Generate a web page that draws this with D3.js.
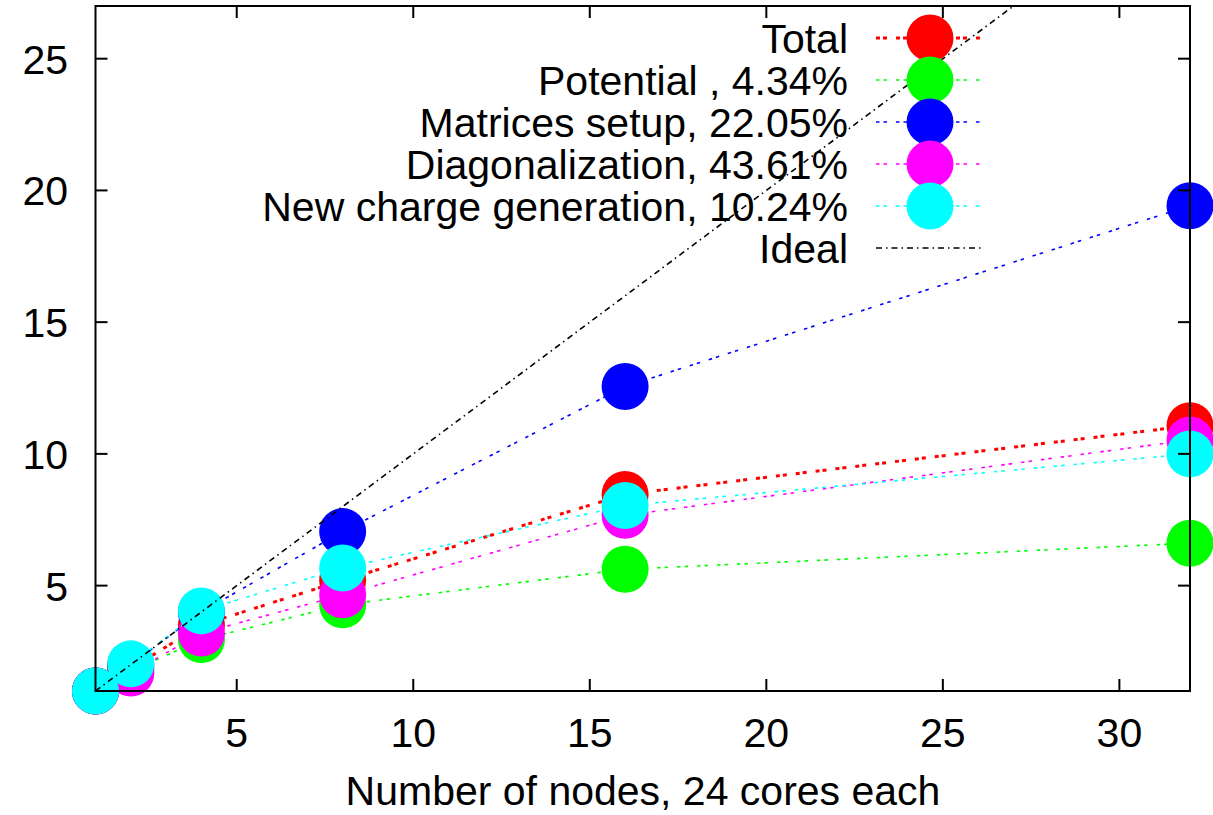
<!DOCTYPE html>
<html>
<head>
<meta charset="utf-8">
<script src="https://cdn.jsdelivr.net/npm/d3@7"></script>
<style>
  body { margin: 0; background: #fff; }
  svg { display: block; font-family: "Liberation Sans", Arial, sans-serif; }
</style>
</head>
<body>
<svg></svg>
<script>
const width = 1213;
const height = 815;

// données
const nodes = [1, 2, 4, 8, 16, 32];
const total = [1, 1.85, 3.5, 5.2, 8.46, 11.07];
const potential = [1, 1.75, 2.95, 4.27, 5.62, 6.61];
const matrices = [1, 2.0, 4.0, 7.05, 12.56, 19.42];
const diag = [1, 1.68, 3.2, 4.65, 7.67, 10.53];
const newCharge = [1, 2.03, 4.04, 5.67, 8.04, 10.0];
const ideal = [1, 32];

const xTicks = [5, 10, 15, 20, 25, 30];
const yTicks = [5, 10, 15, 20, 25];

const series = [
  { name: "Total", values: total, color: "#ff0000", thick: true },
  { name: "Potential , 4.34%", values: potential, color: "#00ff00" },
  { name: "Matrices setup, 22.05%", values: matrices, color: "#0000ff" },
  { name: "Diagonalization, 43.61%", values: diag, color: "#ff00ff" },
  { name: "New charge generation, 10.24%", values: newCharge, color: "#00ffff" }
];

const margin = { left: 95.5, right: 23, top: 6, bottom: 124 };

const svg = d3.select("svg")
  .attr("width", width)
  .attr("height", height);

const x = d3.scaleLinear().domain([1, 32]).range([margin.left, width - margin.right]);
const y = d3.scaleLinear().domain([1, 27]).range([height - margin.bottom, margin.top]);

const fontSize = 41;
const r = 23.5;

svg.append("defs").append("clipPath").attr("id", "clip")
  .append("rect")
  .attr("x", x(1)).attr("y", y(27))
  .attr("width", x(32) - x(1)).attr("height", y(1) - y(27));

const line = d3.line().x(d => x(d[0])).y(d => y(d[1]));

function dashFor(s) {
  return s.thick ? "4,3,4,9" : "3.5,4,3.5,9";
}

// courbes + points
series.forEach(s => {
  const pts = nodes.map((n, i) => [n, s.values[i]]);
  svg.append("path")
    .attr("d", line(pts))
    .attr("fill", "none")
    .attr("stroke", s.color)
    .attr("stroke-width", s.thick ? 3 : 1.6)
    .attr("stroke-dasharray", dashFor(s));
  svg.append("g").selectAll("circle")
    .data(pts)
    .join("circle")
    .attr("cx", d => x(d[0]))
    .attr("cy", d => y(d[1]))
    .attr("r", r)
    .attr("fill", s.color);
});

// droite idéale
svg.append("path")
  .attr("clip-path", "url(#clip)")
  .attr("d", line(ideal.map(v => [v, v])))
  .attr("fill", "none")
  .attr("stroke", "#000")
  .attr("stroke-width", 1.6)
  .attr("stroke-dasharray", "6,4,1.5,4");

// cadre et graduations
const tickLen = 12;
const frame = svg.append("g").attr("stroke", "#000").attr("stroke-width", 2);
frame.append("rect")
  .attr("x", x(1)).attr("y", y(27))
  .attr("width", x(32) - x(1)).attr("height", y(1) - y(27))
  .attr("fill", "none");

xTicks.forEach(t => {
  frame.append("line").attr("x1", x(t)).attr("x2", x(t))
    .attr("y1", y(1)).attr("y2", y(1) - tickLen);
  frame.append("line").attr("x1", x(t)).attr("x2", x(t))
    .attr("y1", y(27)).attr("y2", y(27) + tickLen);
});
yTicks.forEach(t => {
  frame.append("line").attr("x1", x(1)).attr("x2", x(1) + tickLen)
    .attr("y1", y(t)).attr("y2", y(t));
  frame.append("line").attr("x1", x(32)).attr("x2", x(32) - tickLen)
    .attr("y1", y(t)).attr("y2", y(t));
});

svg.append("g").selectAll("text")
  .data(xTicks)
  .join("text")
  .attr("x", d => x(d))
  .attr("y", y(1) + 56)
  .attr("text-anchor", "middle")
  .attr("font-size", fontSize)
  .text(d => d);

svg.append("g").selectAll("text")
  .data(yTicks)
  .join("text")
  .attr("x", 68)
  .attr("y", d => y(d) + 15)
  .attr("text-anchor", "end")
  .attr("font-size", fontSize)
  .text(d => d);

svg.append("text")
  .attr("x", 643)
  .attr("y", 805)
  .attr("text-anchor", "middle")
  .attr("font-size", fontSize)
  .text("Number of nodes, 24 cores each");

// légende
const legendItems = series.concat([{ name: "Ideal", color: "#000", ideal: true }]);
const lg = svg.append("g");
legendItems.forEach((s, i) => {
  const cy = 38 + i * 42;
  lg.append("text")
    .attr("x", 848)
    .attr("y", cy + 14.5)
    .attr("text-anchor", "end")
    .attr("font-size", fontSize)
    .text(s.name);
  lg.append("line")
    .attr("x1", 876).attr("x2", 981)
    .attr("y1", cy).attr("y2", cy)
    .attr("stroke", s.color)
    .attr("stroke-width", s.thick ? 3 : 1.6)
    .attr("stroke-dasharray", s.ideal ? "6,4,1.5,4" : dashFor(s));
  if (!s.ideal) {
    lg.append("circle")
      .attr("cx", 930).attr("cy", cy)
      .attr("r", r)
      .attr("fill", s.color);
  }
});
</script>
</body>
</html>
